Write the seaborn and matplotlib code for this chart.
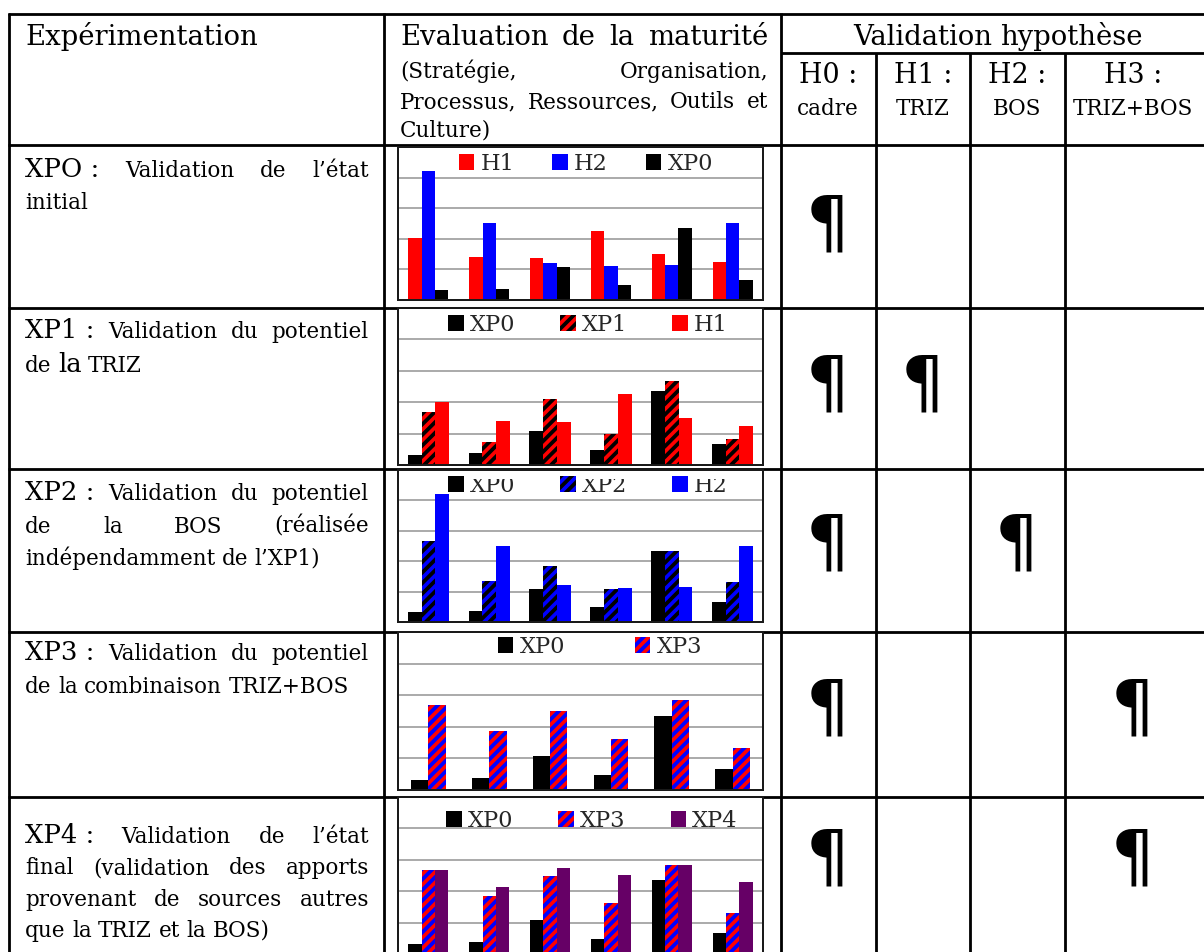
import matplotlib
matplotlib.use("Agg")
import matplotlib.pyplot as plt
from matplotlib.patches import Patch
from matplotlib.transforms import Bbox
import numpy as np
import pandas as pd
import seaborn as sns

# ---------------- data ----------------
dimensions = ["Stratégie", "Organisation", "Processus", "Ressources", "Outils", "Culture"]
XP0 = [0.33, 0.37, 1.08, 0.49, 2.35, 0.66]
H1 = [2.01, 1.39, 1.37, 2.26, 1.51, 1.25]
H2 = [4.20, 2.51, 1.22, 1.11, 1.16, 2.51]
XP1 = [1.68, 0.74, 2.10, 1.00, 2.69, 0.83]
XP2 = [2.66, 1.35, 1.85, 1.09, 2.32, 1.30]
XP3 = [2.68, 1.86, 2.50, 1.62, 2.84, 1.32]
XP4 = [2.69, 2.14, 2.73, 2.51, 2.85, 2.28]
series_values = {"XP0": XP0, "H1": H1, "H2": H2, "XP1": XP1,
                 "XP2": XP2, "XP3": XP3, "XP4": XP4}
chart_series = [["H1", "H2", "XP0"], ["XP0", "XP1", "H1"], ["XP0", "XP2", "H2"],
                ["XP0", "XP3"], ["XP0", "XP3", "XP4"]]

# ---------------- styles ----------------
face = {"XP0": "#000000", "H1": "#ff0000", "H2": "#0000ff", "XP1": "#ff0000",
        "XP2": "#0000ff", "XP3": "#ff0000", "XP4": "#660066"}
stripe = {"XP1": "#000000", "XP2": "#000000", "XP3": "#0000ff"}
HATCH = "////"

DPI = 127
W, H = 1204, 952


def pt(px):
    return px * 72.0 / DPI


sns.set_style("white")
SERIF = "DejaVu Serif"
plt.rcParams["font.family"] = [SERIF]
plt.rcParams["hatch.linewidth"] = pt(3.8)

fig = plt.figure(figsize=(W / DPI, H / DPI), dpi=DPI)
fig.patch.set_facecolor("white")
bg = fig.add_axes([0, 0, 1, 1])
bg.set_xlim(0, W)
bg.set_ylim(H, 0)
bg.axis("off")

# ---------------- table grid ----------------
LW = pt(2.8)
x_left, x_c1, x_c2, x_h1, x_h2, x_h3, x_right = 9, 384, 781, 876, 970, 1065, 1215
y_top, y_hsub, y_hdr = 14, 53, 145
row_lines = [308, 469, 632, 797]
bg.hlines(y_top, x_left - 1, x_right, color="black", lw=LW)
bg.hlines(y_hsub, x_c2, x_right, color="black", lw=LW)
bg.hlines([y_hdr] + row_lines, x_left - 1, x_right, color="black", lw=LW)
bg.vlines([x_left, x_c1, x_c2], y_top - 1, H + 5, color="black", lw=LW)
bg.vlines([x_h1, x_h2, x_h3], y_hsub, H + 5, color="black", lw=LW)

# ---------------- text helpers ----------------
fig.canvas.draw()
renderer = fig.canvas.get_renderer()


def place_line(tokens, y, x0, x1=None, mode="left"):
    arts, widths = [], []
    for txt, em in tokens:
        t = bg.text(0, y, txt, fontsize=pt(em), va="baseline", ha="left", color="black")
        arts.append(t)
        widths.append(t.get_window_extent(renderer).width)
    min_em = min(s for _, s in tokens)
    gap = 0.30 * min_em
    total = sum(widths) + gap * (len(arts) - 1)
    if mode == "justify" and len(arts) > 1:
        gap = (x1 - x0 - sum(widths)) / (len(arts) - 1)
        x = x0
    elif mode == "center":
        x = x0 - total / 2
    else:
        x = x0
    for t, w in zip(arts, widths):
        t.set_x(x)
        x += w + gap


# font sizes as em heights in pixels
BH = 27.5   # header big
B = 26.0    # experiment labels big
S = 21.5    # small text
HB = 27.0   # hypothesis labels
HS = 21.5   # hypothesis sub-labels

# header
place_line([("Expérimentation", BH)], 45, 25)
place_line([("Evaluation", BH), ("de", BH), ("la", BH), ("maturité", BH)], 45, 400, 768, "justify")
place_line([("(Stratégie,", S), ("Organisation,", S)], 78, 400, 768, "justify")
place_line([("Processus,", S), ("Ressources,", S), ("Outils", S), ("et", S)], 108, 400, 768, "justify")
place_line([("Culture)", S)], 137, 400)
place_line([("Validation", BH), ("hypothèse", BH)], 45, 998, mode="center")
hyp_heads = [("H0 :", "cadre", 828), ("H1 :", "TRIZ", 923), ("H2 :", "BOS", 1017), ("H3 :", "TRIZ+BOS", 1133)]
for top, sub, cx in hyp_heads:
    place_line([(top, HB)], 83, cx, mode="center")
    place_line([(sub, HS)], 115, cx, mode="center")

# left column
XL0, XL1 = 25, 369
left_lines = [
    (177, [("XPO :", B), ("Validation", S), ("de", S), ("l’état", S)], "justify"),
    (209, [("initial", S)], "left"),
    (338, [("XP1 :", B), ("Validation", S), ("du", S), ("potentiel", S)], "justify"),
    (372, [("de", S), ("la", B), ("TRIZ", S)], "left"),
    (500, [("XP2 :", B), ("Validation", S), ("du", S), ("potentiel", S)], "justify"),
    (533, [("de", S), ("la", S), ("BOS", S), ("(réalisée", S)], "justify"),
    (565, [("indépendamment", S), ("de", S), ("l’XP1)", S)], "left"),
    (660, [("XP3 :", B), ("Validation", S), ("du", S), ("potentiel", S)], "justify"),
    (693, [("de", S), ("la", S), ("combinaison", S), ("TRIZ+BOS", S)], "left"),
    (843, [("XP4 :", B), ("Validation", S), ("de", S), ("l’état", S)], "justify"),
    (874, [("final", S), ("(validation", S), ("des", S), ("apports", S)], "justify"),
    (906, [("provenant", S), ("de", S), ("sources", S), ("autres", S)], "justify"),
    (937, [("que", S), ("la", S), ("TRIZ", S), ("et", S), ("la", S), ("BOS)", S)], "left"),
]
for y, toks, mode in left_lines:
    place_line(toks, y, XL0, XL1, mode)

# pilcrows
pil_cols = {"H0": 828, "H1": 923, "H2": 1017, "H3": 1133}
pil_rows = [226, 386, 545, 710, 860]
pil_marks = [["H0"], ["H0", "H1"], ["H0", "H2"], ["H0", "H3"], ["H0", "H3"]]
for yc, cols in zip(pil_rows, pil_marks):
    for c in cols:
        bg.text(pil_cols[c], yc, "¶", fontsize=pt(69), family="DejaVu Sans",
                ha="center", va="center", color="black")

# ---------------- bar charts ----------------
chart_box = [(147, 300), (308, 465), (470, 622), (632, 790), (797, 954)]
bar_width = [0.66, 0.68, 0.68, 0.57, 0.66]
CX0, CX1 = 398, 763
legend_cfg = [  # center x, top y, column spacing, clip top
    (586, 153, 1.7, None),
    (588, 314, 2.0, 313),
    (588, 475, 2.0, 479),
    (600, 636, 3.1, None),
    (592, 810, 2.0, None),
]
LEG_EM = 22.5

for i, names in enumerate(chart_series):
    y0, y1 = chart_box[i]
    ax = fig.add_axes([CX0 / W, 1 - y1 / H, (CX1 - CX0) / W, (y1 - y0) / H])
    df = pd.DataFrame({
        "dimension": np.tile(dimensions, len(names)),
        "serie": np.repeat(names, len(dimensions)),
        "score": np.concatenate([series_values[n] for n in names]),
    })
    sns.barplot(data=df, x="dimension", y="score", hue="serie", hue_order=names,
                palette={n: face[n] for n in names}, width=bar_width[i],
                saturation=1, linewidth=0, legend=False, ax=ax)
    for cont, n in zip(ax.containers, names):
        for bar in cont:
            bar.set_linewidth(0)
            if n in stripe:
                bar.set_hatch(HATCH)
                bar.set_edgecolor(stripe[n])
    ax.set_xlim(-0.5, 5.5)
    ax.set_ylim(0, 5)
    ax.set_yticks([1, 2, 3, 4])
    ax.set_xticks([])
    ax.yaxis.grid(True, color="#a3a3a3", lw=pt(1.8))
    ax.xaxis.grid(False)
    ax.set_axisbelow(True)
    ax.tick_params(length=0, labelleft=False, labelbottom=False)
    ax.set_xlabel("")
    ax.set_ylabel("")
    ax.set_facecolor("white")
    for sp in ax.spines.values():
        sp.set_visible(True)
        sp.set_color("#1a1a1a")
        sp.set_linewidth(pt(2.0))

    handles = [Patch(facecolor=face[n], edgecolor=stripe.get(n, face[n]),
                     hatch=HATCH if n in stripe else None, linewidth=0, label=n)
               for n in names]
    cx, ty, cs, clip_top = legend_cfg[i]
    leg = ax.legend(handles=handles, loc="upper center", ncol=len(names),
                    bbox_to_anchor=(cx / W, 1 - ty / H), bbox_transform=fig.transFigure,
                    frameon=False, fontsize=pt(LEG_EM), handlelength=0.68, handleheight=0.68,
                    handletextpad=0.28, columnspacing=cs, borderpad=0, borderaxespad=0)
    if clip_top is not None:
        cb = Bbox.from_extents(CX0, H - y1, CX1, H - clip_top)
        for t in leg.get_texts():
            t.set_clip_box(cb)
            t.set_clip_on(True)

fig.savefig("out.png", dpi=DPI, facecolor="white")
